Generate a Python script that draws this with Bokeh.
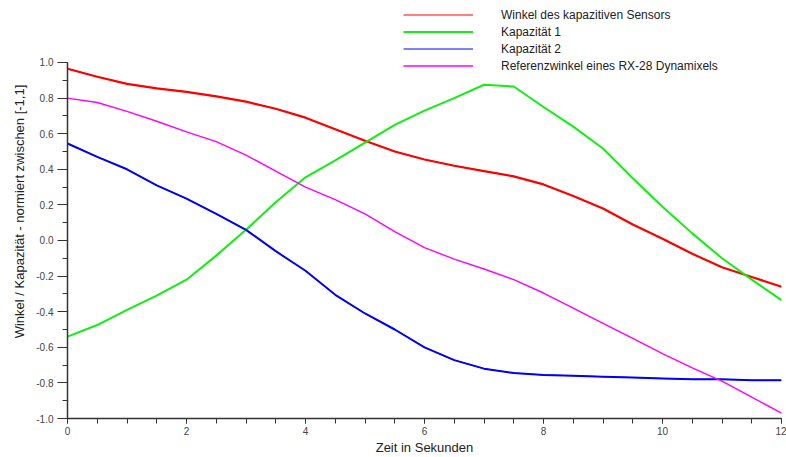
from bokeh.plotting import figure
from bokeh.models import Legend, LegendItem, FixedTicker, PrintfTickFormatter, Range1d
from bokeh.embed import file_html
from bokeh.resources import INLINE

# time axis (seconds)
t = [0.0, 0.5, 1.0, 1.5, 2.0, 2.5, 3.0, 3.5, 4.0, 4.5, 5.0, 5.5, 6.0,
     6.5, 7.0, 7.5, 8.0, 8.5, 9.0, 9.5, 10.0, 10.5, 11.0, 11.5, 12.0]

winkel_sensor = [0.965, 0.92, 0.88, 0.855, 0.835, 0.81, 0.78, 0.74, 0.69, 0.625,
                 0.56, 0.50, 0.455, 0.42, 0.39, 0.36, 0.315, 0.25, 0.18, 0.09,
                 0.01, -0.075, -0.15, -0.205, -0.26]
kapazitaet_1 = [-0.54, -0.475, -0.39, -0.31, -0.22, -0.085, 0.06, 0.215, 0.355, 0.45,
                0.55, 0.65, 0.73, 0.80, 0.875, 0.865, 0.75, 0.64, 0.517, 0.35,
                0.19, 0.04, -0.10, -0.22, -0.335]
kapazitaet_2 = [0.545, 0.47, 0.40, 0.31, 0.235, 0.15, 0.06, -0.06, -0.17, -0.305,
                -0.41, -0.50, -0.60, -0.672, -0.72, -0.745, -0.755, -0.76, -0.765, -0.77,
                -0.775, -0.78, -0.78, -0.785, -0.785]
referenzwinkel = [0.80, 0.775, 0.725, 0.67, 0.61, 0.555, 0.48, 0.39, 0.30, 0.23,
                  0.15, 0.05, -0.04, -0.105, -0.16, -0.22, -0.295, -0.38, -0.465, -0.55,
                  -0.635, -0.715, -0.79, -0.88, -0.97]

labels = ["Winkel des kapazitiven Sensors", "Kapazität 1", "Kapazität 2",
          "Referenzwinkel eines RX-28 Dynamixels"]
colors = ["#ff0000", "#11ee11", "#0000ff", "#ff00ff"]
x_ticks = [0, 2, 4, 6, 8, 10, 12]
y_ticks = [-1.0, -0.8, -0.6, -0.4, -0.2, 0.0, 0.2, 0.4, 0.6, 0.8, 1.0]

FONT = "Liberation Sans"

# frame extends above 1.0 so the legend (drawn above the data area) is not clipped;
# the y axis itself is bounded to [-1, 1]
p = figure(width=786, height=457, output_backend="svg", toolbar_location=None,
           x_range=Range1d(0, 12), y_range=Range1d(-1, 1.3258),
           min_border_left=67, min_border_right=5, min_border_top=4, min_border_bottom=39)
p.outline_line_color = None
p.xgrid.visible = False
p.ygrid.visible = False
p.background_fill_color = "white"

# thin copies underneath (hidden by the thicker lines) used for the thin legend swatches
leg_red = p.line(t, winkel_sensor, line_color=colors[0], line_width=1)
leg_blue = p.line(t, kapazitaet_2, line_color=colors[2], line_width=1)

r1 = p.line(t, winkel_sensor, line_color=colors[0], line_width=2.2)
r2 = p.line(t, kapazitaet_1, line_color=colors[1], line_width=2)
r3 = p.line(t, kapazitaet_2, line_color=colors[2], line_width=2)
r4 = p.line(t, referenzwinkel, line_color=colors[3], line_width=1.4)

# axes
for ax in (p.xaxis[0], p.yaxis[0]):
    ax.axis_line_color = "#333333"
    ax.axis_line_width = 1.5
    ax.major_tick_line_color = "#333333"
    ax.minor_tick_line_color = "#333333"
    ax.major_tick_in = 0
    ax.minor_tick_in = 0
    ax.major_label_text_font = FONT
    ax.major_label_text_font_size = "10px"
    ax.major_label_text_color = "#444444"
    ax.axis_label_text_font = FONT
    ax.axis_label_text_font_size = "13px"
    ax.axis_label_text_font_style = "normal"
    ax.axis_label_text_color = "#222222"

p.xaxis[0].ticker = FixedTicker(ticks=x_ticks,
                                minor_ticks=[v * 0.5 for v in range(0, 25)])
p.xaxis[0].major_tick_out = 5
p.xaxis[0].minor_tick_out = 5
p.xaxis[0].major_label_standoff = 3
p.xaxis[0].axis_label = "Zeit in Sekunden"
p.xaxis[0].axis_label_standoff = 2

p.yaxis[0].bounds = (-1, 1)
p.yaxis[0].ticker = FixedTicker(ticks=y_ticks,
                                minor_ticks=[round(-1 + v * 0.1, 2) for v in range(0, 21)])
p.yaxis[0].formatter = PrintfTickFormatter(format="%.1f")
p.yaxis[0].major_tick_out = 10
p.yaxis[0].minor_tick_out = 5
p.yaxis[0].major_label_standoff = 4
p.yaxis[0].axis_label = "Winkel / Kapazität - normiert zwischen [-1,1]"
p.yaxis[0].axis_label_standoff = 6

legend = Legend(items=[LegendItem(label=labels[0], renderers=[leg_red]),
                       LegendItem(label=labels[1], renderers=[r2]),
                       LegendItem(label=labels[2], renderers=[leg_blue]),
                       LegendItem(label=labels[3], renderers=[r4])],
                location=(336, 344))
legend.border_line_color = None
legend.background_fill_alpha = 0
legend.padding = 0
legend.margin = 0
legend.spacing = 0
legend.glyph_width = 70
legend.glyph_height = 17
legend.label_height = 17
legend.label_standoff = 28
legend.label_text_font = FONT
legend.label_text_font_size = "12px"
legend.label_text_color = "#222222"
p.add_layout(legend, "center")

open("out.html", "w").write(file_html(p, INLINE))
